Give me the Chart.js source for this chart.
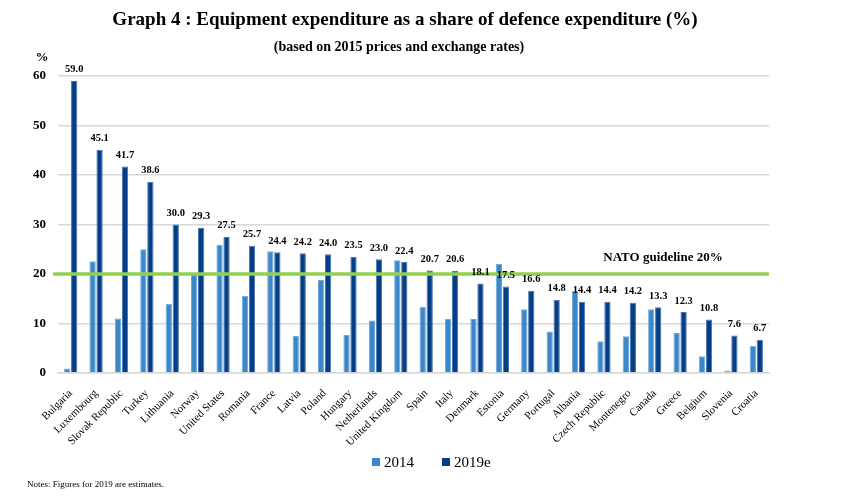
<!DOCTYPE html>
<html>
<head>
<meta charset="utf-8">
<script src="https://cdn.jsdelivr.net/npm/chart.js@4.4.0/dist/chart.umd.min.js"></script>
<style>
  html, body { margin: 0; padding: 0; background: #fff; }
  #wrap { position: relative; width: 842px; height: 498px; }
  #note { position: absolute; left: 27px; top: 479px; font: 9px "Liberation Serif", serif; color: #000; }
  .leg { position: absolute; top: 453px; font: 15px "Liberation Serif", serif; color: #000; line-height: 18px; }
  .leg i { display: inline-block; width: 8px; height: 8px; margin-right: 4px; vertical-align: 1px; }
</style>
</head>
<body>
<div id="wrap">
  <canvas id="chart" width="842" height="498"></canvas>
  <div class="leg" style="left:372px"><i style="background:#3A87C9"></i>2014</div>
  <div class="leg" style="left:442px"><i style="background:#033F88"></i>2019e</div>
  <div id="note">Notes: Figures for 2019 are estimates.</div>
</div>
<script>
// 국가 / 값
const countries = ['Bulgaria', 'Luxembourg', 'Slovak Republic', 'Turkey', 'Lithuania', 'Norway',
  'United States', 'Romania', 'France', 'Latvia', 'Poland', 'Hungary', 'Netherlands',
  'United Kingdom', 'Spain', 'Italy', 'Denmark', 'Estonia', 'Germany', 'Portugal', 'Albania',
  'Czech Republic', 'Montenegro', 'Canada', 'Greece', 'Belgium', 'Slovenia', 'Croatia'];
const values2014 = [0.9, 22.6, 11.0, 25.0, 14.0, 20.1, 25.9, 15.6, 24.6, 7.5, 18.8, 7.7, 10.6,
  22.8, 13.4, 10.9, 10.9, 22.0, 12.9, 8.4, 16.6, 6.4, 7.4, 12.9, 8.1, 3.4, 0.5, 5.5];
const values2019 = [59.0, 45.1, 41.7, 38.6, 30.0, 29.3, 27.5, 25.7, 24.4, 24.2, 24.0, 23.5, 23.0,
  22.4, 20.7, 20.6, 18.1, 17.5, 16.6, 14.8, 14.4, 14.4, 14.2, 13.3, 12.3, 10.8, 7.6, 6.7];
const yTicks = [0, 10, 20, 30, 40, 50, 60];
const natoGuideline = 20;

const serif = '"Liberation Serif", "Times New Roman", serif';

// 제목, NATO 기준선 + 라벨, % 표시
const extrasPlugin = {
  id: 'extras',
  afterDatasetsDraw(chart) {
    const { ctx, chartArea, scales } = chart;
    const y = scales.y.getPixelForValue(natoGuideline);
    ctx.save();
    ctx.strokeStyle = '#92D050';
    ctx.lineWidth = 3.5;
    ctx.beginPath();
    ctx.moveTo(chartArea.left - 5, y);
    ctx.lineTo(chartArea.right, y);
    ctx.stroke();

    ctx.fillStyle = '#000';
    ctx.textAlign = 'center';
    ctx.textBaseline = 'middle';
    ctx.font = 'bold 19px ' + serif;
    ctx.fillText('Graph 4 : Equipment expenditure as a share of defence expenditure (%)', 405, 20);
    ctx.font = 'bold 14px ' + serif;
    ctx.fillText('(based on 2015 prices and exchange rates)', 399, 47);

    ctx.textBaseline = 'bottom';
    ctx.font = 'bold 13px ' + serif;
    ctx.fillText('NATO guideline 20%', 663, y - 10);

    // 2019 값 라벨
    ctx.font = 'bold 10.5px ' + serif;
    const meta = chart.getDatasetMeta(1);
    meta.data.forEach((bar, i) => {
      ctx.fillText(values2019[i].toFixed(1), bar.x, bar.y - 6);
    });

    ctx.font = 'bold 13px ' + serif;
    ctx.fillText('%', 42, chartArea.top - 12);
    ctx.restore();
  }
};

new Chart(document.getElementById('chart').getContext('2d'), {
  type: 'bar',
  data: {
    labels: countries,
    datasets: [
      {
        label: '2014',
        data: values2014,
        backgroundColor: '#3A87C9',
        borderColor: '#6FA8DA',
        borderWidth: 1
      },
      {
        label: '2019e',
        data: values2019,
        backgroundColor: '#033F88',
        borderColor: '#4A74AC',
        borderWidth: 1
      }
    ]
  },
  options: {
    responsive: false,
    animation: false,
    categoryPercentage: 0.55,
    barPercentage: 0.9,
    layout: { padding: { left: 20, right: 73, top: 76, bottom: 0 } },
    plugins: {
      legend: { display: false },
      tooltip: { enabled: false }
    },
    scales: {
      x: {
        afterFit(axis) { axis.height = 125; },
        grid: { display: false },
        border: { color: '#D9D9D9', width: 1.5 },
        ticks: {
          font: { family: serif, size: 11 },
          color: '#000',
          minRotation: 45,
          maxRotation: 45,
          autoSkip: false,
          padding: 6
        }
      },
      y: {
        min: 0,
        max: 60,
        afterFit(axis) { axis.width = 38; },
        afterBuildTicks(axis) { axis.ticks = yTicks.map(v => ({ value: v })); },
        grid: { color: '#D9D9D9', lineWidth: 1.5, drawTicks: false },
        border: { display: false },
        ticks: {
          font: { family: serif, size: 13, weight: 'bold' },
          color: '#000',
          padding: 12
        }
      }
    }
  },
  plugins: [extrasPlugin]
});
</script>
</body>
</html>
